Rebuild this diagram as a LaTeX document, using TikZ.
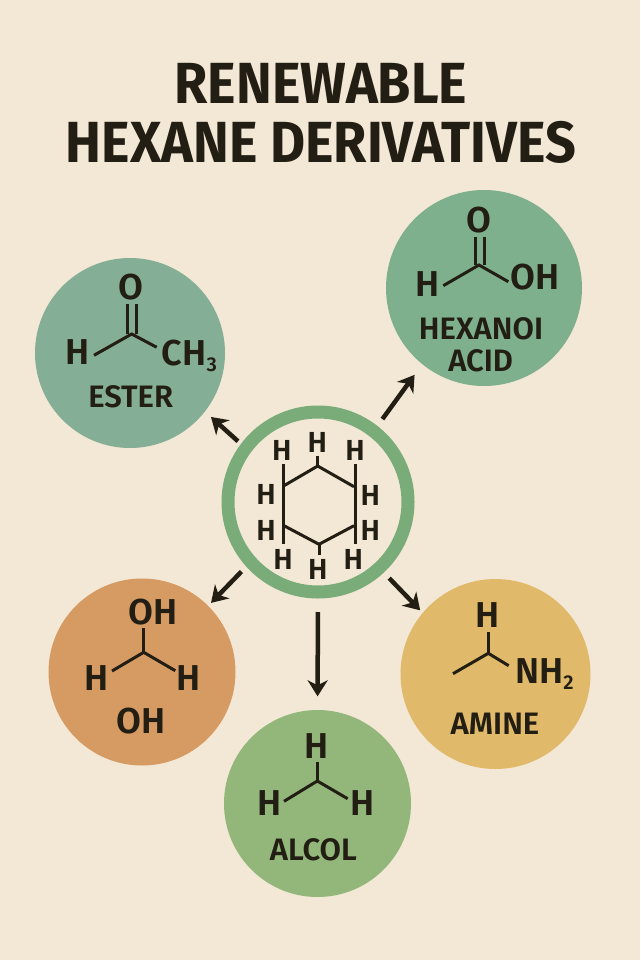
\documentclass[tikz,border=0pt]{standalone}
\usepackage{fontspec}
\setmainfont{Fira Sans SemiBold}
\newfontfamily\titlefont[FakeStretch=0.93]{Fira Sans Bold}
\usetikzlibrary{arrows.meta}
\definecolor{paper}{HTML}{F3E7D5}
\definecolor{ink}{HTML}{221E14}
\definecolor{ringgreen}{HTML}{79AC78}
\definecolor{acidgreen}{HTML}{7FB08D}
\definecolor{estergreen}{HTML}{84AE95}
\definecolor{ohorange}{HTML}{D69A63}
\definecolor{alcolgreen}{HTML}{93B77A}
\definecolor{amineyellow}{HTML}{E0B96A}
\newcommand{\lowsub}[1]{\raisebox{-6.5pt}{\fontsize{20pt}{20pt}\selectfont #1}}
\tikzset{
  disc/.style={circle,inner sep=0pt,minimum size=#1},
  atom/.style={text=ink,inner sep=0pt,font=\fontsize{36pt}{36pt}\selectfont},
  small atom/.style={text=ink,inner sep=0pt,font=\fontsize{29pt}{29pt}\selectfont},
  name label/.style={text=ink,inner sep=0pt,font=\fontsize{31pt}{31pt}\selectfont},
  title label/.style={text=ink,inner sep=0pt,font=\fontsize{58pt}{58pt}\titlefont},
  bond/.style={draw=ink,line width=3pt},
  flow/.style={draw=ink,line width=4.5pt,-{Stealth[length=16pt,width=20pt,inset=5pt]}},
}
\begin{document}
\begin{tikzpicture}[x=1pt,y=-1pt]
\fill[paper] (0,0) rectangle (640,960);
\useasboundingbox (0,0) rectangle (640,960);
% title
\node[title label] at (321,83.5) (title1) {RENEWABLE};
\node[title label] at (321,142.5) (title2) {HEXANE DERIVATIVES};
% discs
\node[disc=196pt,fill=acidgreen] at (484,288) (acid) {};
\node[disc=190pt,fill=estergreen] at (130,353) (ester) {};
\node[disc=187pt,fill=ohorange] at (142,672) (diol) {};
\node[disc=187pt,fill=alcolgreen] at (317.5,803.5) (alcol) {};
\node[disc=190pt,fill=amineyellow] at (495.5,674) (amine) {};
\node[disc=180pt,draw=ringgreen,line width=13pt] at (318,502) (core) {};
% arrows
\draw[flow,shorten <=8.5pt,shorten >=13pt] (core.52.8) -- (acid.231.5);
\draw[flow,shorten <=4pt,shorten >=8pt] (core.143.7) -- (ester.-38.6);
\draw[flow,shorten <=7pt,shorten >=4pt] (core.222) -- (diol.45.7);
\draw[flow,shorten <=13.5pt,shorten >=13.5pt] (core.270) -- (alcol.90);
\draw[flow,shorten <=7.7pt,shorten >=3.5pt] (core.-47.1) -- (amine.140.2);
% ring molecule
\coordinate (v1) at (317.7,466);
\coordinate (v2) at (354,486.7);
\coordinate (v3) at (354,525.7);
\coordinate (v4) at (319,544.3);
\coordinate (v5) at (284,525.7);
\coordinate (v6) at (284,485.7);
\coordinate (s1) at (317.7,455.7);
\coordinate (s4) at (319,555);
\coordinate (s2a) at (355,464);
\coordinate (s2b) at (355,544);
\coordinate (s6a) at (283.5,464);
\coordinate (s6b) at (283.5,544.3);
\draw[bond] (v1) -- (v2) (v3) -- (v4) -- (v5) (v6) -- (v1);
\draw[bond] (s1) -- (v1);
\draw[bond] (s4) -- (v4);
\draw[bond] (s2a) -- (s2b);
\draw[bond] (s6a) -- (s6b);
\node[small atom] at (317.3,442.3) (h1) {H};
\node[small atom] at (355,450.7) (h2) {H};
\node[small atom] at (281.7,450.7) (h3) {H};
\node[small atom] at (370.3,495) (h4) {H};
\node[small atom] at (266,494.3) (h5) {H};
\node[small atom] at (370.3,530) (h6) {H};
\node[small atom] at (266,530) (h7) {H};
\node[small atom] at (353.3,559) (h8) {H};
\node[small atom] at (283,559.3) (h9) {H};
\node[small atom] at (317.7,569) (h10) {H};
% acid
\coordinate (acidC) at (479,265);
\coordinate (acidHb) at (443.3,285.7);
\coordinate (acidOHb) at (508.3,281.7);
\coordinate (acidOa) at (475,236.7);
\coordinate (acidOb) at (484,236.7);
\coordinate (acidCa) at (475,265);
\coordinate (acidCb) at (484,265);
\draw[bond] (acidHb) -- (acidC) -- (acidOHb);
\draw[bond] (acidCa) -- (acidOa);
\draw[bond] (acidCb) -- (acidOb);
\node[atom] at (478.7,220) (acidO) {O};
\node[atom] at (427.7,284.3) (acidH) {H};
\node[atom] at (535,277.3) (acidOH) {OH};
\node[name label] at (481,329) (acidName1) {HEXANOI};
\node[name label] at (480.7,360.7) (acidName2) {ACID};
% ester
\coordinate (esterC) at (131.7,334);
\coordinate (esterHb) at (94,355.3);
\coordinate (esterMb) at (156.7,347.3);
\coordinate (esterOa) at (127.3,304);
\coordinate (esterOb) at (136,304);
\coordinate (esterCa) at (127.3,334);
\coordinate (esterCb) at (136,334);
\draw[bond] (esterHb) -- (esterC) -- (esterMb);
\draw[bond] (esterCa) -- (esterOa);
\draw[bond] (esterCb) -- (esterOb);
\node[atom] at (131.3,287.3) (esterO) {O};
\node[atom] at (77.3,352) (esterH) {H};
\node[atom,anchor=base west] at (161.7,365) (esterM) {CH\lowsub{3}};
\node[name label] at (130.7,396.7) (esterName) {ESTER};
% diol
\coordinate (diolC) at (143.7,652.3);
\coordinate (diolTb) at (143.7,628.3);
\coordinate (diolLb) at (112,671);
\coordinate (diolRb) at (175.3,670.7);
\draw[bond] (diolC) -- (diolTb);
\draw[bond] (diolLb) -- (diolC) -- (diolRb);
\node[atom] at (153.3,611.7) (diolOH) {OH};
\node[atom] at (97,677.7) (diolHl) {H};
\node[atom] at (189,677.7) (diolHr) {H};
\node[atom] at (141,720.7) (diolName) {OH};
% alcol
\coordinate (alcolC) at (317.3,781);
\coordinate (alcolTb) at (317.3,762);
\coordinate (alcolLb) at (284,801.3);
\coordinate (alcolRb) at (347.7,798.7);
\draw[bond] (alcolC) -- (alcolTb);
\draw[bond] (alcolLb) -- (alcolC) -- (alcolRb);
\node[atom] at (317,745.7) (alcolH) {H};
\node[atom] at (269.3,802.7) (alcolHl) {H};
\node[atom] at (362.7,802.7) (alcolHr) {H};
\node[name label] at (313.3,850) (alcolName) {ALCOL};
% amine
\coordinate (amineC) at (488.3,653.3);
\coordinate (amineTb) at (488.3,631.7);
\coordinate (amineLb) at (453,673.7);
\coordinate (amineRb) at (508.7,665.7);
\draw[bond] (amineC) -- (amineTb);
\draw[bond] (amineLb) -- (amineC) -- (amineRb);
\node[atom] at (487.7,615) (amineH) {H};
\node[atom,anchor=base west] at (515,683.3) (amineN) {NH\lowsub{2}};
\node[name label] at (495,724) (amineName) {AMINE};
\end{tikzpicture}
\end{document}
